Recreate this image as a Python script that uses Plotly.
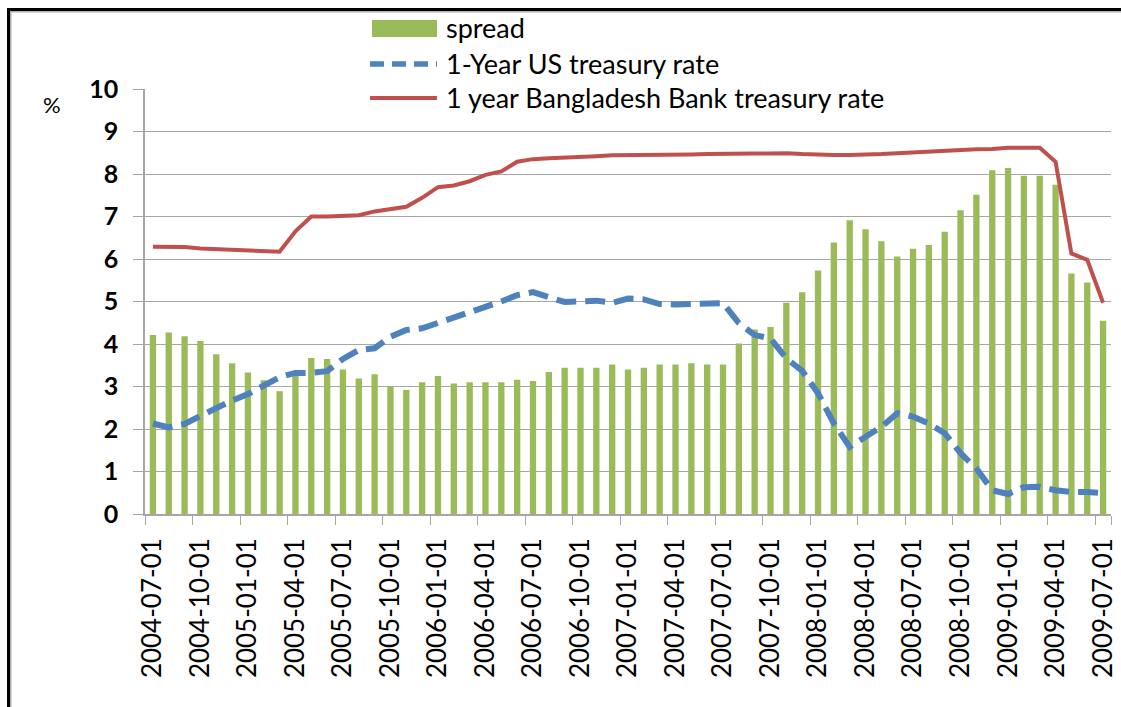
import pandas as pd
import plotly.graph_objects as go

# monthly categories, 2004-07 .. 2009-07
months = [d.strftime("%Y-%m-%d") for d in pd.date_range("2004-07-01", "2009-07-01", freq="MS")]
tick_labels = months[::3]

spread = [4.21, 4.27, 4.18, 4.07, 3.76, 3.55, 3.33, 3.15, 2.89, 3.32,
          3.67, 3.65, 3.40, 3.19, 3.29, 3.00, 2.92, 3.10, 3.25, 3.07,
          3.10, 3.10, 3.10, 3.16, 3.13, 3.34, 3.44, 3.44, 3.44, 3.52,
          3.40, 3.44, 3.52, 3.52, 3.55, 3.52, 3.52, 4.01, 4.34, 4.40,
          4.97, 5.22, 5.73, 6.39, 6.91, 6.70, 6.42, 6.06, 6.24, 6.33,
          6.64, 7.15, 7.51, 8.09, 8.14, 7.96, 7.96, 7.75, 5.66, 5.45,
          4.55]

us_rate = [2.13, 2.04, 2.12, 2.29, 2.49, 2.67, 2.82, 3.02, 3.22, 3.32,
           3.32, 3.36, 3.65, 3.86, 3.90, 4.17, 4.33, 4.37, 4.49, 4.63,
           4.74, 4.88, 5.00, 5.15, 5.22, 5.10, 4.99, 5.00, 5.02, 4.97,
           5.07, 5.05, 4.94, 4.93, 4.93, 4.94, 4.96, 4.49, 4.21, 4.13,
           3.66, 3.37, 2.84, 2.13, 1.58, 1.82, 2.05, 2.37, 2.29, 2.13,
           1.90, 1.43, 1.07, 0.56, 0.47, 0.63, 0.64, 0.56, 0.52, 0.52,
           0.49]

bd_rate = [6.29, 6.29, 6.28, 6.25, 6.23, 6.23, 6.20, 6.17, 6.17, 6.65,
           7.00, 7.00, 7.02, 7.03, 7.12, 7.18, 7.23, 7.44, 7.69, 7.73,
           7.83, 7.98, 8.06, 8.29, 8.35, 8.37, 8.38, 8.41, 8.42, 8.44,
           8.44, 8.44, 8.45, 8.45, 8.46, 8.47, 8.48, 8.48, 8.48, 8.48,
           8.49, 8.47, 8.45, 8.45, 8.45, 8.45, 8.47, 8.49, 8.51, 8.53,
           8.56, 8.58, 8.58, 8.59, 8.62, 8.62, 8.62, 8.29, 6.13, 5.98,
           4.97]

names = ["spread", "1-Year US treasury rate", "1 year Bangladesh Bank treasury rate"]
GREEN, BLUE, RED = "#9BBB59", "#4F81BD", "#C0504D"
GRID = "#a6a6a6"

W, H = 1121, 707
L, R, T, B = 145, 10, 89, 193
pw, ph = W - L - R, H - T - B


def px(x):
    return (x - L) / pw


def py(y):
    return (H - B - y) / ph


fig = go.Figure()
fig.add_trace(go.Bar(x=months, y=spread, name=names[0], marker_color=GREEN, marker_line_width=0))
fig.add_trace(go.Scatter(x=months, y=us_rate, name=names[1], mode="lines",
                         line=dict(color=BLUE, width=6, dash="20px,9px")))
fig.add_trace(go.Scatter(x=months, y=bd_rate, name=names[2], mode="lines",
                         line=dict(color=RED, width=4)))

# hand-made legend (Excel style, long symbols)
shapes = [
    dict(type="rect", xref="paper", yref="paper", x0=px(372), x1=px(437), y0=py(37), y1=py(20),
         fillcolor=GREEN, line_width=0),
    dict(type="line", xref="paper", yref="paper", x0=px(370), x1=px(437), y0=py(64), y1=py(64),
         line=dict(color=BLUE, width=5.5, dash="14px,8px")),
    dict(type="line", xref="paper", yref="paper", x0=px(370), x1=px(437), y0=py(98), y1=py(98),
         line=dict(color=RED, width=4)),
    # outer frame (top and left edges visible)
    dict(type="line", xref="paper", yref="paper", x0=px(8), x1=px(1125), y0=py(11.5), y1=py(11.5),
         line=dict(color="#b0b0b0", width=2)),
    dict(type="line", xref="paper", yref="paper", x0=px(10.5), x1=px(10.5), y0=py(10), y1=py(710),
         line=dict(color="#b0b0b0", width=2)),
    dict(type="line", xref="paper", yref="paper", x0=px(7), x1=px(1125), y0=py(9.5), y1=py(9.5),
         line=dict(color="black", width=3)),
    dict(type="line", xref="paper", yref="paper", x0=px(8.5), x1=px(8.5), y0=py(8), y1=py(710),
         line=dict(color="black", width=3)),
]

ann = []
for nm, yy in zip(names, [28, 64, 98]):
    ann.append(dict(x=px(444), y=py(yy), xref="paper", yref="paper", text=nm, showarrow=False,
                    xanchor="left", yanchor="middle", font=dict(family="Lato", size=27, color="black")))
ann.append(dict(x=px(52), y=py(104), xref="paper", yref="paper", text="%", showarrow=False,
                xanchor="center", yanchor="middle", font=dict(family="Lato", size=22, color="black")))

fig.update_layout(
    width=W, height=H,
    margin=dict(l=L, r=R, t=T, b=B),
    paper_bgcolor="white", plot_bgcolor="white",
    showlegend=False,
    bargap=0.6,
    shapes=shapes,
    annotations=ann,
    xaxis=dict(type="category", tickmode="array", tickvals=tick_labels, ticktext=tick_labels,
               tickson="boundaries", tickangle=-90, ticks="outside", ticklen=9, tickcolor=GRID,
               showgrid=False, showline=True, linecolor=GRID, linewidth=1.5, ticklabelstandoff=12,
               automargin=False, tickfont=dict(family="Lato", size=26, color="black")),
    yaxis=dict(range=[0, 10], dtick=1, ticks="outside", ticklen=10, tickcolor=GRID,
               showgrid=True, gridcolor=GRID, gridwidth=1.2, showline=True, linecolor=GRID, linewidth=1.5,
               zeroline=False, ticklabelstandoff=10, automargin=False,
               tickfont=dict(family="Lato", size=25, color="black", weight="bold")),
)

fig.write_html("out.html", config={"displayModeBar": False},
               post_script="document.body.style.margin='0px';")
